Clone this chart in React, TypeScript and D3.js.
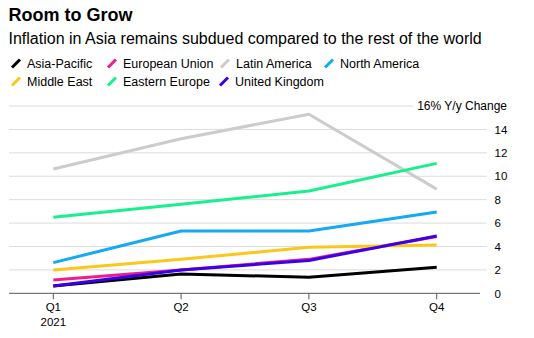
import React from "react";
import * as d3 from "d3";

const quarters = ["Q1", "Q2", "Q3", "Q4"];
const yTicks = [0, 2, 4, 6, 8, 10, 12, 14, 16];

const seriesNames = [
  "Asia-Pacific",
  "European Union",
  "Latin America",
  "North America",
  "Middle East",
  "Eastern Europe",
  "United Kingdom",
];
const asiaPacific = [0.62, 1.65, 1.37, 2.22];
const europeanUnion = [1.14, 2.0, 2.9, 4.85];
const latinAmerica = [10.62, 13.2, 15.3, 8.9];
const northAmerica = [2.62, 5.32, 5.32, 6.95];
const middleEast = [1.99, 2.9, 3.93, 4.13];
const easternEurope = [6.5, 7.6, 8.74, 11.1];
const unitedKingdom = [0.62, 2.0, 2.8, 4.9];

const seriesValues = [asiaPacific, europeanUnion, latinAmerica, northAmerica, middleEast, easternEurope, unitedKingdom];
const seriesColors = ["#000000", "#ec1e8c", "#cccccc", "#14a9f0", "#fbc71a", "#18f08f", "#3b00e8"];

// legend layout (row, x)
const legendPos = [
  [0, 11], [0, 107], [0, 220], [0, 324],
  [1, 11], [1, 107], [1, 219],
];

const FONT = "'Liberation Sans', Arial, Helvetica, sans-serif";

export default function App() {
  const width = 534;
  const height = 338;
  const x = d3.scalePoint<string>().domain(quarters).range([53.3, 436.7]);
  const y = d3.scaleLinear().domain([0, 16]).range([293.3, 106]);
  const line = d3
    .line<number>()
    .x((_, i) => x(quarters[i]) as number)
    .y((d) => y(d));

  return (
    <svg
      width={width}
      height={height}
      style={{ position: "absolute", left: 0, top: 0, background: "#fff" }}
      fontFamily={FONT}
    >
      <text x={8.5} y={20.5} fontSize={18} fontWeight="bold" fill="#000">
        Room to Grow
      </text>
      <text x={8.5} y={43.5} fontSize={16} fill="#000">
        Inflation in Asia remains subdued compared to the rest of the world
      </text>

      {seriesNames.map((name, i) => {
        const [row, lx] = legendPos[i];
        const by = row === 0 ? 67.5 : 85.5;
        return (
          <g key={name}>
            <line
              x1={lx + 1}
              y1={by}
              x2={lx + 9}
              y2={by - 8}
              stroke={seriesColors[i]}
              strokeWidth={3}
              strokeLinecap="butt"
            />
            <text x={lx + 16} y={by} fontSize={12.5} fill="#000">
              {name}
            </text>
          </g>
        );
      })}

      {yTicks.filter((t) => t > 0).map((t) => (
        <line
          key={"g" + t}
          x1={9}
          x2={t === 16 ? 413 : 486.7}
          y1={y(t)}
          y2={y(t)}
          stroke="#dcdcdc"
          strokeWidth={1}
        />
      ))}
      {yTicks.filter((t) => t < 16).map((t) => (
        <text key={"t" + t} x={494.5} y={y(t) + 4.2} fontSize={11.5} fill="#000">
          {t}
        </text>
      ))}
      <text x={507} y={y(16) + 4.2} fontSize={12} fill="#000" textAnchor="end">
        16% Y/y Change
      </text>

      <line x1={9} x2={480} y1={y(0)} y2={y(0)} stroke="#555" strokeWidth={1} />
      {quarters.map((q) => (
        <line key={"k" + q} x1={x(q)} x2={x(q)} y1={y(0)} y2={y(0) + 6} stroke="#555" strokeWidth={1} />
      ))}
      {quarters.map((q) => (
        <text key={"l" + q} x={x(q)} y={311} fontSize={11.5} textAnchor="middle" fill="#000">
          {q}
        </text>
      ))}
      <text x={x("Q1")} y={326} fontSize={11.5} textAnchor="middle" fill="#000">
        2021
      </text>

      {seriesValues.map((vals, i) => (
        <path
          key={seriesNames[i]}
          d={line(vals) || ""}
          fill="none"
          stroke={seriesColors[i]}
          strokeWidth={3}
          strokeLinejoin="round"
        />
      ))}
    </svg>
  );
}
